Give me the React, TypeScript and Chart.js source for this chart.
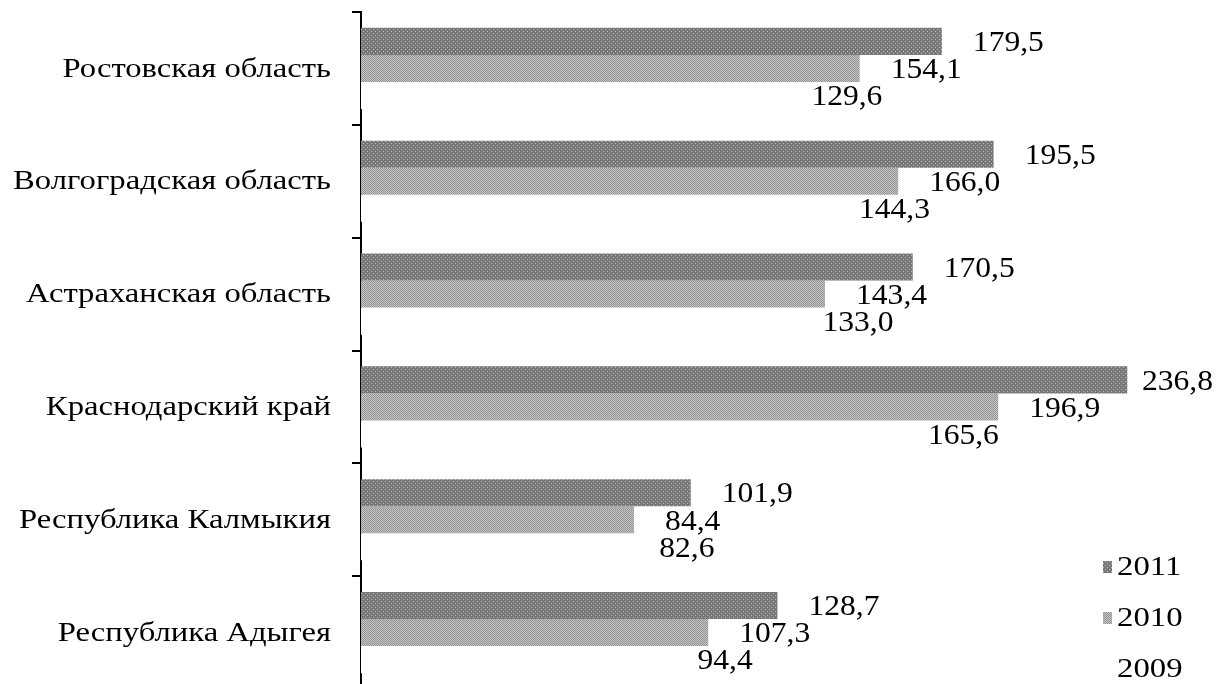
import { useEffect, useRef } from 'react';
import { Chart, registerables } from 'chart.js';

Chart.register(...registerables);

const categories = [
  'Ростовская область',
  'Волгоградская область',
  'Астраханская область',
  'Краснодарский край',
  'Республика Калмыкия',
  'Республика Адыгея',
];
const seriesNames = ['2011', '2010', '2009'];
const values2011 = [179.5, 195.5, 170.5, 236.8, 101.9, 128.7];
const values2010 = [154.1, 166.0, 143.4, 196.9, 84.4, 107.3];
const values2009 = [129.6, 144.3, 133.0, 165.6, 82.6, 94.4];

const FONT = '"Liberation Serif", "Times New Roman", serif';

function makePattern(rows: string[], colors: Record<string, string>) {
  const c = document.createElement('canvas');
  c.width = rows[0].length;
  c.height = rows.length;
  const ctx = c.getContext('2d')!;
  rows.forEach((r, y) =>
    r.split('').forEach((ch, x) => {
      ctx.fillStyle = colors[ch];
      ctx.fillRect(x, y, 1, 1);
    })
  );
  return ctx.createPattern(c, 'repeat')!;
}

const fmt = (v: number) => v.toFixed(1).replace('.', ',');

function stretchedWidth(ctx: CanvasRenderingContext2D, text: string, size: number, sx: number) {
  ctx.save();
  ctx.font = `${size}px ${FONT}`;
  const w = ctx.measureText(text).width * sx;
  ctx.restore();
  return w;
}

function stretchedText(
  ctx: CanvasRenderingContext2D,
  text: string,
  x: number,
  y: number,
  size: number,
  sx: number,
  align: CanvasTextAlign
) {
  ctx.save();
  ctx.font = `${size}px ${FONT}`;
  ctx.fillStyle = '#000';
  ctx.textAlign = align;
  ctx.textBaseline = 'middle';
  ctx.translate(x, y);
  ctx.scale(sx, 1);
  ctx.fillText(text, 0, 0);
  ctx.restore();
}

const categoryLabels = {
  id: 'categoryLabels',
  afterDraw(chart: any) {
    const ctx = chart.ctx;
    const y = chart.scales.y;
    (chart.data.labels as string[]).forEach((lab, i) => {
      stretchedText(ctx, lab, y.right - 30, y.getPixelForValue(i) + 1, 27, 1.21, 'right');
    });
  },
};

const valueLabels = {
  id: 'valueLabels',
  afterDatasetsDraw(chart: any) {
    const ctx = chart.ctx;
    chart.data.datasets.forEach((ds: any, i: number) => {
      const meta = chart.getDatasetMeta(i);
      meta.data.forEach((bar: any, j: number) => {
        const text = fmt(ds.data[j] as number);
        const w = stretchedWidth(ctx, text, 29.5, 1.07);
        let x = bar.x + 31;
        if (x + w > chart.width - 10) x = chart.width - 10 - w;
        stretchedText(ctx, text, x, bar.y + 2, 29.5, 1.07, 'left');
      });
    });
  },
};

const customLegend = {
  id: 'customLegend',
  afterDraw(chart: any) {
    const ctx = chart.ctx;
    const x0 = 1103;
    const y0 = 567;
    chart.data.datasets.forEach((ds: any, i: number) => {
      const y = y0 + i * 51;
      ctx.save();
      ctx.fillStyle = ds.backgroundColor;
      ctx.fillRect(x0, y - 6, 9, 12);
      ctx.restore();
      stretchedText(ctx, ds.label, x0 + 14, y + 1, 28, 1.17, 'left');
    });
  },
};

export default function App() {
  const ref = useRef<HTMLCanvasElement>(null);

  useEffect(() => {
    document.body.style.margin = '0';
    const darkPat = makePattern(
      ['abab', 'bcba', 'abab', 'babc'],
      { a: '#6a6a6a', b: '#868686', c: '#b0b0b0' }
    );
    const lightPat = makePattern(
      ['de', 'ed'],
      { d: '#959595', e: '#c4c4c4' }
    );
    const chart = new Chart(ref.current!, {
      type: 'bar',
      data: {
        labels: categories,
        datasets: [
          { label: seriesNames[0], data: values2011, backgroundColor: darkPat as any },
          { label: seriesNames[1], data: values2010, backgroundColor: lightPat as any },
          { label: seriesNames[2], data: values2009, backgroundColor: '#ffffff' },
        ],
      },
      options: {
        indexAxis: 'y',
        responsive: false,
        animation: false,
        devicePixelRatio: 1,
        datasets: {
          bar: { categoryPercentage: 0.72, barPercentage: 1.0, borderWidth: 0 },
        },
        layout: { padding: { top: 12, bottom: 11, left: 0, right: 53 } },
        plugins: {
          legend: { display: false },
          tooltip: { enabled: false },
        },
        scales: {
          x: { display: false, min: 0, max: 250 },
          y: {
            z: 1,
            afterFit: (scale: any) => {
              scale.width = 361;
              scale.paddingTop = 0;
              scale.paddingBottom = 0;
            },
            grid: {
              offset: true,
              drawOnChartArea: false,
              drawTicks: true,
              tickLength: 9,
              lineWidth: 2,
              color: '#000',
            },
            border: { display: true, color: '#000', width: 2 },
            ticks: { display: false },
          },
        },
      },
      plugins: [categoryLabels, valueLabels, customLegend],
    });
    return () => chart.destroy();
  }, []);

  return (
    <div style={{ position: 'fixed', left: 0, top: 0, width: 1223, height: 684, overflow: 'hidden', background: '#fff' }}>
      <canvas ref={ref} width={1223} height={700} style={{ display: 'block' }} />
    </div>
  );
}
